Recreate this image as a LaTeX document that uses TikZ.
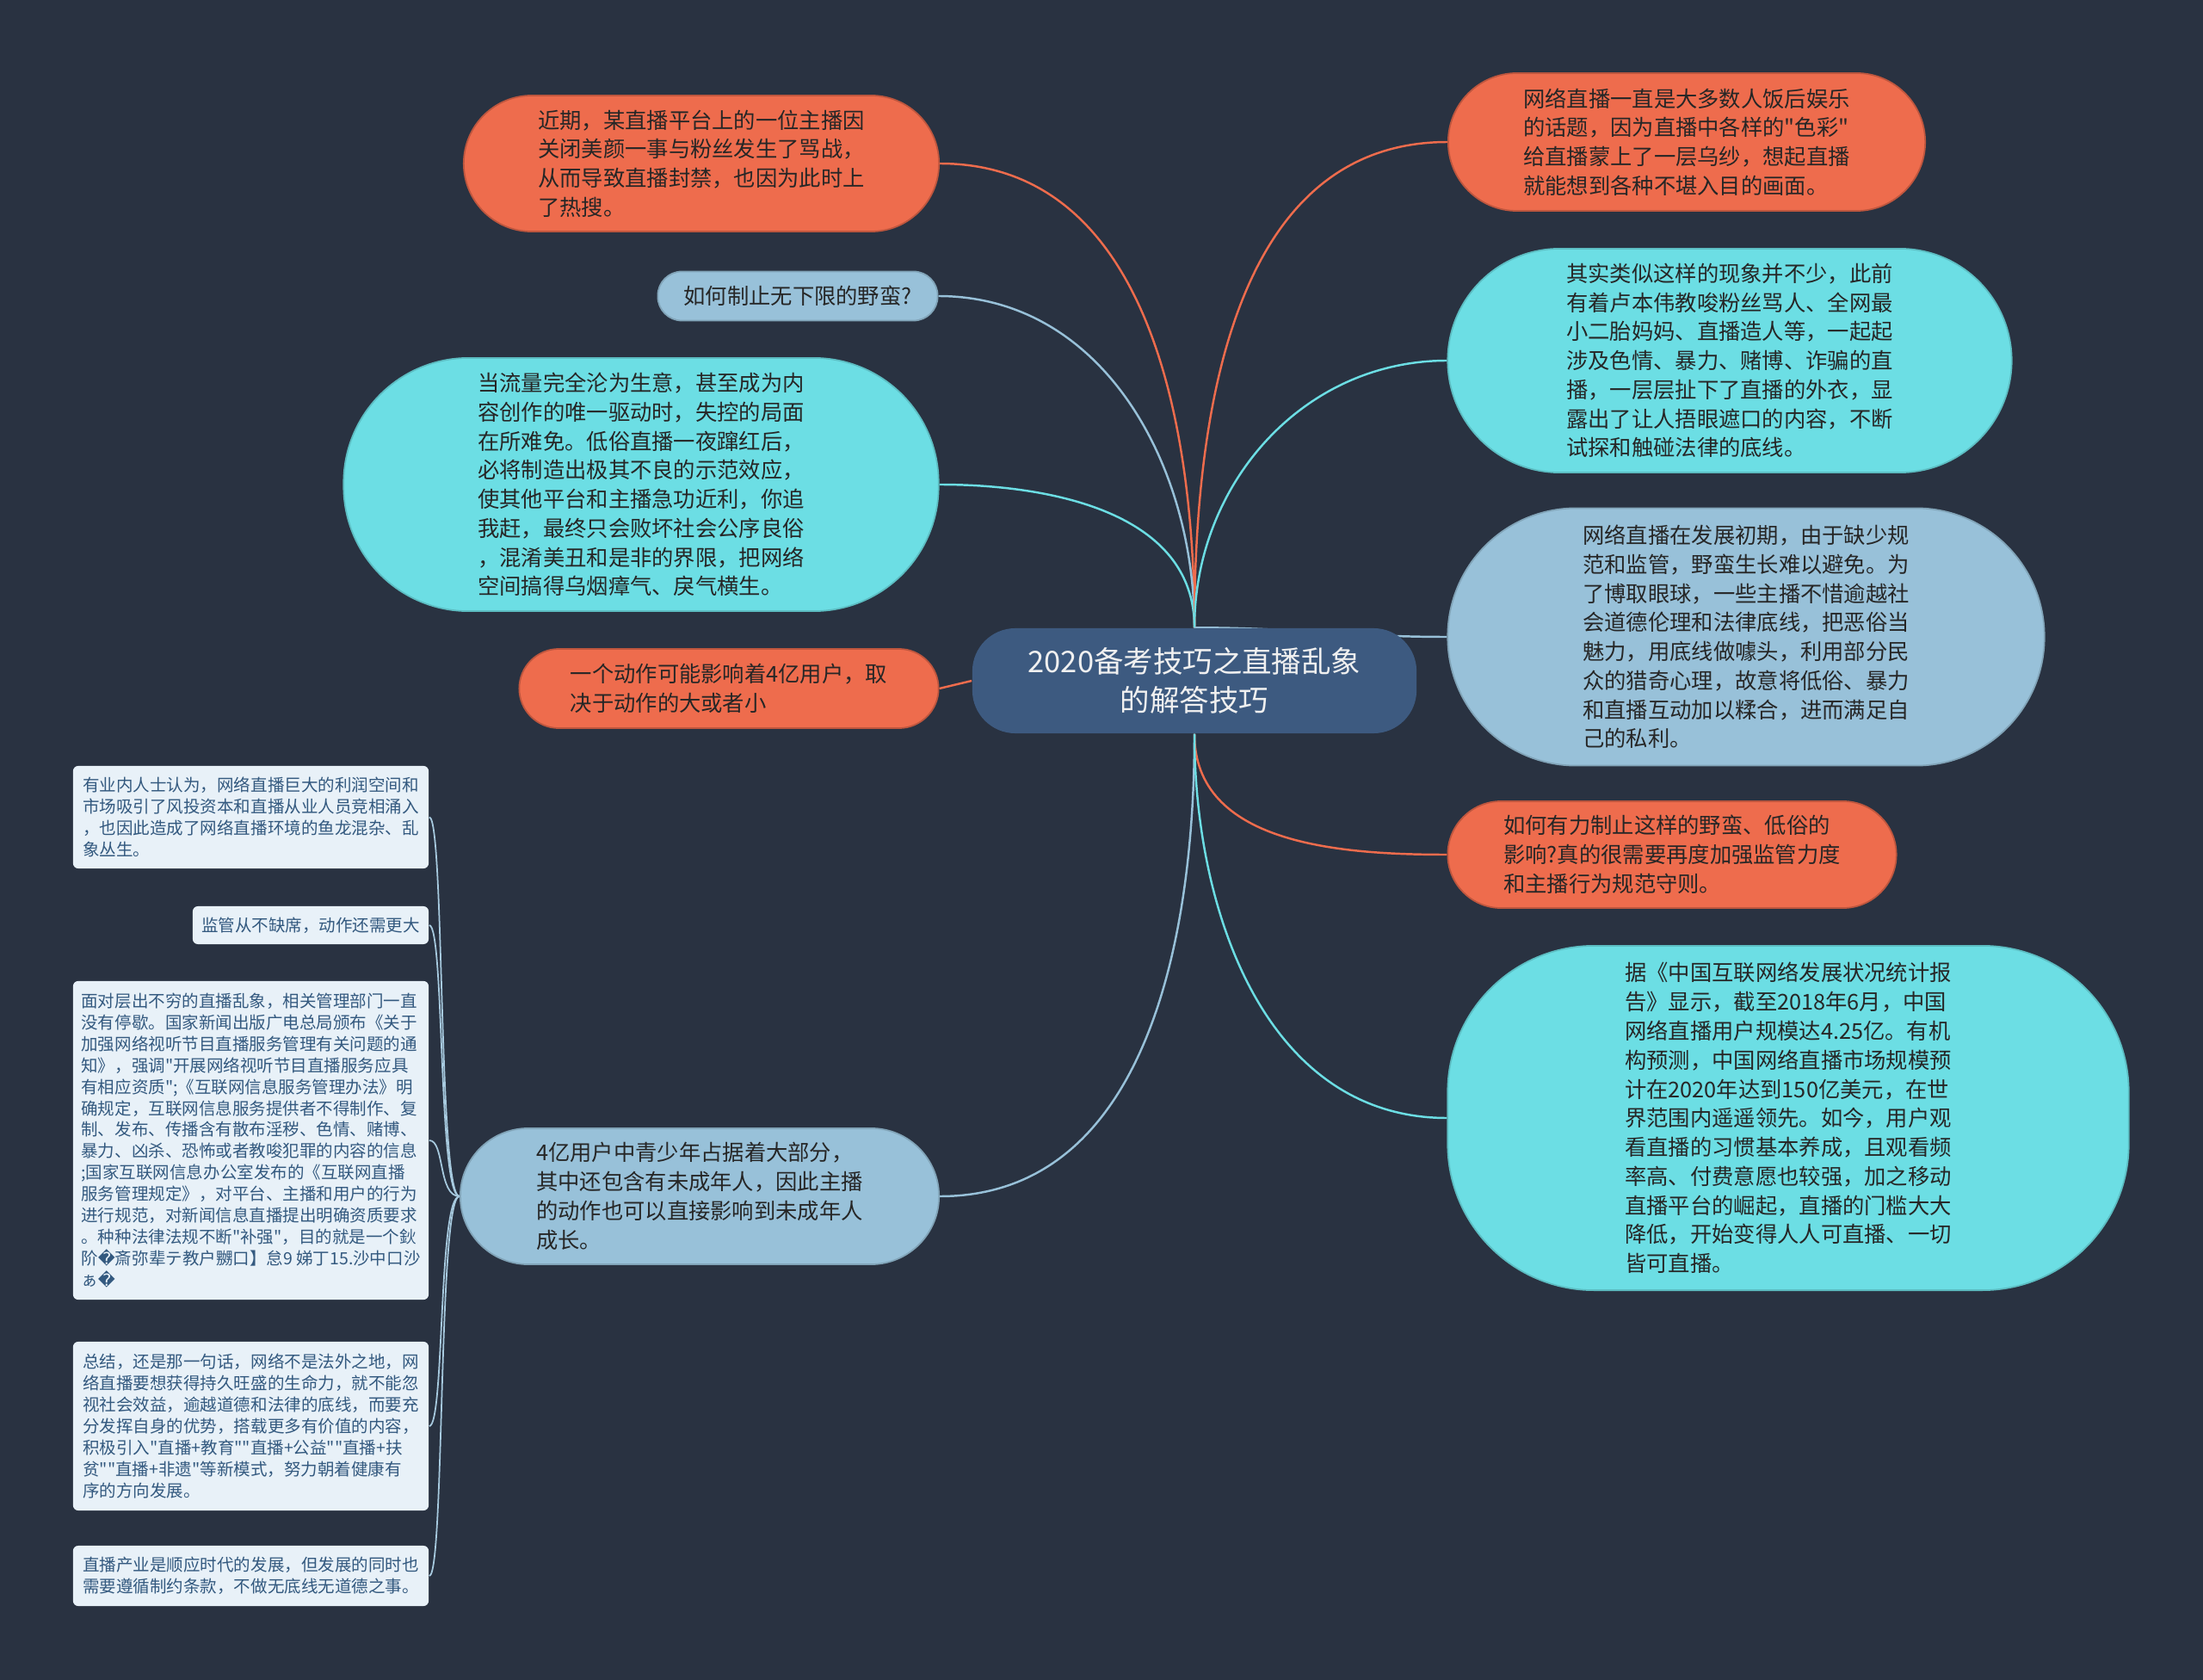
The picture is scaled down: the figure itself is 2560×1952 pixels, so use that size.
\documentclass[tikz,border=0pt]{standalone}
\usepackage{fontspec}
\setmainfont{Noto Sans CJK SC}[Ligatures=TeXOff]
\newfontfamily\replfont{DejaVu Sans}
\usepackage{xcolor}
\definecolor{mapNavy}{HTML}{293241}
\definecolor{mapSlate}{HTML}{3D5A80}
\definecolor{mapOrange}{HTML}{EE6C4D}
\definecolor{mapCyan}{HTML}{6CDEE4}
\definecolor{mapSky}{HTML}{98C1D9}
\definecolor{mapPaper}{HTML}{E8F1F8}
\definecolor{mapInk}{HTML}{262626}
\definecolor{noteInk}{HTML}{33597F}
\usepackage{tikz}
\usetikzlibrary{backgrounds}
\newcommand{\hubsize}{\fontsize{9.8pt}{13pt}\selectfont}
\newcommand{\topicsize}{\fontsize{7.2pt}{9.6pt}\selectfont}
\newcommand{\notesize}{\fontsize{5.55pt}{7.1pt}\selectfont}

\begin{document}
\begin{tikzpicture}[
  x=0.01cm, y=-0.01cm,
  hub/.style = {rectangle, rounded corners=0.5cm, fill=mapSlate,
                text=white!94!black, font=\hubsize, align=center,
                minimum width=5.16cm, minimum height=1.22cm},
  bubble/.style = {rectangle, rounded corners=#1, line width=0.5pt,
                   text=mapInk, font=\topicsize, align=left,
                   inner xsep=0.3cm, inner ysep=0.1cm},
  fillOrange/.style = {fill=mapOrange, draw=mapOrange!80!black},
  fillCyan/.style   = {fill=mapCyan, draw=mapCyan!85!black},
  fillSky/.style    = {fill=mapSky, draw=mapSky!85!black},
  note/.style = {rectangle, rounded corners=0.06cm, fill=mapPaper,
                 text=noteInk, font=\notesize, align=left,
                 inner xsep=0.08cm, inner ysep=0.05cm},
  link/.style = {line width=0.7pt},
  twig/.style = {line width=0.5pt, color=mapSky!85!white},
]
\useasboundingbox (0,0) rectangle (2560,1952);

% Central topic
\node[hub] (hub) at (1388,791) {2020备考技巧之直播乱象\\的解答技巧};

% Left branches
\node[bubble=0.79cm, fillOrange, minimum width=5.52cm, minimum height=1.58cm]
  (nearby) at (815,190)
  {近期，某直播平台上的一位主播因\\关闭美颜一事与粉丝发生了骂战，\\从而导致直播封禁，也因为此时上\\了热搜。};
\node[bubble=0.28cm, fillSky, minimum width=3.23cm, minimum height=0.57cm]
  (howstop) at (927,344) {如何制止无下限的野蛮?};
\node[bubble=1.45cm, fillCyan, minimum width=6.91cm, minimum height=2.94cm]
  (traffic) at (745,563)
  {当流量完全沦为生意，甚至成为内\\容创作的唯一驱动时，失控的局面\\在所难免。低俗直播一夜蹿红后，\\必将制造出极其不良的示范效应，\\使其他平台和主播急功近利，你追\\我赶，最终只会败坏社会公序良俗\\，混淆美丑和是非的界限，把网络\\空间搞得乌烟瘴气、戾气横生。};
\node[bubble=0.46cm, fillOrange, minimum width=4.87cm, minimum height=0.92cm]
  (oneact) at (847,800)
  {一个动作可能影响着4亿用户，取\\决于动作的大或者小};
\node[bubble=0.79cm, fillSky, minimum width=5.56cm, minimum height=1.58cm]
  (youth) at (813,1390)
  {4亿用户中青少年占据着大部分，\\其中还包含有未成年人，因此主播\\的动作也可以直接影响到未成年人\\成长。};

% Right branches
\node[bubble=0.8cm, fillOrange, minimum width=5.54cm, minimum height=1.60cm]
  (topic) at (1960,165)
  {网络直播一直是大多数人饭后娱乐\\的话题，因为直播中各样的"色彩"\\给直播蒙上了一层乌纱，想起直播\\就能想到各种不堪入目的画面。};
\node[bubble=1.3cm, fillCyan, minimum width=6.55cm, minimum height=2.60cm]
  (cases) at (2010,419)
  {其实类似这样的现象并不少，此前\\有着卢本伟教唆粉丝骂人、全网最\\小二胎妈妈、直播造人等，一起起\\涉及色情、暴力、赌博、诈骗的直\\播，一层层扯下了直播的外衣，显\\露出了让人捂眼遮口的内容，不断\\试探和触碰法律的底线。};
\node[bubble=1.49cm, fillSky, minimum width=6.93cm, minimum height=2.99cm]
  (early) at (2029,740)
  {网络直播在发展初期，由于缺少规\\范和监管，野蛮生长难以避免。为\\了博取眼球，一些主播不惜逾越社\\会道德伦理和法律底线，把恶俗当\\魅力，用底线做噱头，利用部分民\\众的猎奇心理，故意将低俗、暴力\\和直播互动加以糅合，进而满足自\\己的私利。};
\node[bubble=0.62cm, fillOrange, minimum width=5.21cm, minimum height=1.24cm]
  (curb) at (1943,993)
  {如何有力制止这样的野蛮、低俗的\\影响?真的很需要再度加强监管力度\\和主播行为规范守则。};
\node[bubble=1.7cm, fillCyan, minimum width=7.91cm, minimum height=4.00cm]
  (report) at (2078,1299)
  {据《中国互联网络发展状况统计报\\告》显示，截至2018年6月，中国\\网络直播用户规模达4.25亿。有机\\构预测，中国网络直播市场规模预\\计在2020年达到150亿美元，在世\\界范围内遥遥领先。如今，用户观\\看直播的习惯基本养成，且观看频\\率高、付费意愿也较强，加之移动\\直播平台的崛起，直播的门槛大大\\降低，开始变得人人可直播、一切\\皆可直播。};

% Notes under the youth branch
\node[note, minimum width=4.13cm, minimum height=1.19cm] (insider) at (291.5,949.5)
  {有业内人士认为，网络直播巨大的利润空间和\\市场吸引了风投资本和直播从业人员竞相涌入\\，也因此造成了网络直播环境的鱼龙混杂、乱\\象丛生。};
\node[note, minimum width=2.74cm, minimum height=0.44cm] (watch) at (361,1075)
  {监管从不缺席，动作还需更大};
\node[note, minimum width=4.13cm, minimum height=3.70cm] (rules) at (291.5,1325)
  {面对层出不穷的直播乱象，相关管理部门一直\\没有停歇。国家新闻出版广电总局颁布《关于\\加强网络视听节目直播服务管理有关问题的通\\知》，强调"开展网络视听节目直播服务应具\\有相应资质";《互联网信息服务管理办法》明\\确规定，互联网信息服务提供者不得制作、复\\制、发布、传播含有散布淫秽、色情、赌博、\\暴力、凶杀、恐怖或者教唆犯罪的内容的信息\\;国家互联网信息办公室发布的《互联网直播\\服务管理规定》，对平台、主播和用户的行为\\进行规范，对新闻信息直播提出明确资质要求\\。种种法律法规不断"补强"，目的就是一个鈥\\阶{\replfont �}斎弥辈テ教户嬲口】怠9 娣丁15.沙中口沙\\ぁ{\replfont �}};
\node[note, minimum width=4.13cm, minimum height=1.96cm] (summary) at (291.5,1657)
  {总结，还是那一句话，网络不是法外之地，网\\络直播要想获得持久旺盛的生命力，就不能忽\\视社会效益，逾越道德和法律的底线，而要充\\分发挥自身的优势，搭载更多有价值的内容，\\积极引入"直播+教育""直播+公益""直播+扶\\贫""直播+非遗"等新模式，努力朝着健康有\\序的方向发展。};
\node[note, minimum width=4.13cm, minimum height=0.70cm] (industry) at (291.5,1831)
  {直播产业是顺应时代的发展，但发展的同时也\\需要遵循制约条款，不做无底线无道德之事。};

% Connectors
\begin{scope}[on background layer]
\fill[mapNavy] (0,0) rectangle (2560,1952);
\draw[link, mapOrange] (hub.north) to[out=90, in=0] (nearby.east);
\draw[link, mapSky]    (hub.north) to[out=90, in=0] (howstop.east);
\draw[link, mapCyan]   (hub.north) to[out=90, in=0] (traffic.east);
\draw[link, mapOrange] (hub.west) -- (oneact.east);
\draw[link, mapSky]    (hub.south) to[out=-90, in=0] (youth.east);
\draw[link, mapOrange] (hub.north) to[out=90, in=180] (topic.west);
\draw[link, mapCyan]   (hub.north) to[out=90, in=180] (cases.west);
\draw[link, mapSky]    (hub.north) to[out=0, in=180] (early.west);
\draw[link, mapOrange] (hub.south) to[out=-90, in=180] (curb.west);
\draw[link, mapCyan]   (hub.south) to[out=-90, in=180] (report.west);
\draw[twig] (youth.west) .. controls +(-25,0) and +(18,0) .. (insider.east);
\draw[twig] (youth.west) .. controls +(-25,0) and +(18,0) .. (watch.east);
\draw[twig] (youth.west) .. controls +(-25,0) and +(18,0) .. (rules.east);
\draw[twig] (youth.west) .. controls +(-25,0) and +(18,0) .. (summary.east);
\draw[twig] (youth.west) .. controls +(-25,0) and +(18,0) .. (industry.east);
\end{scope}

\end{tikzpicture}
\end{document}
